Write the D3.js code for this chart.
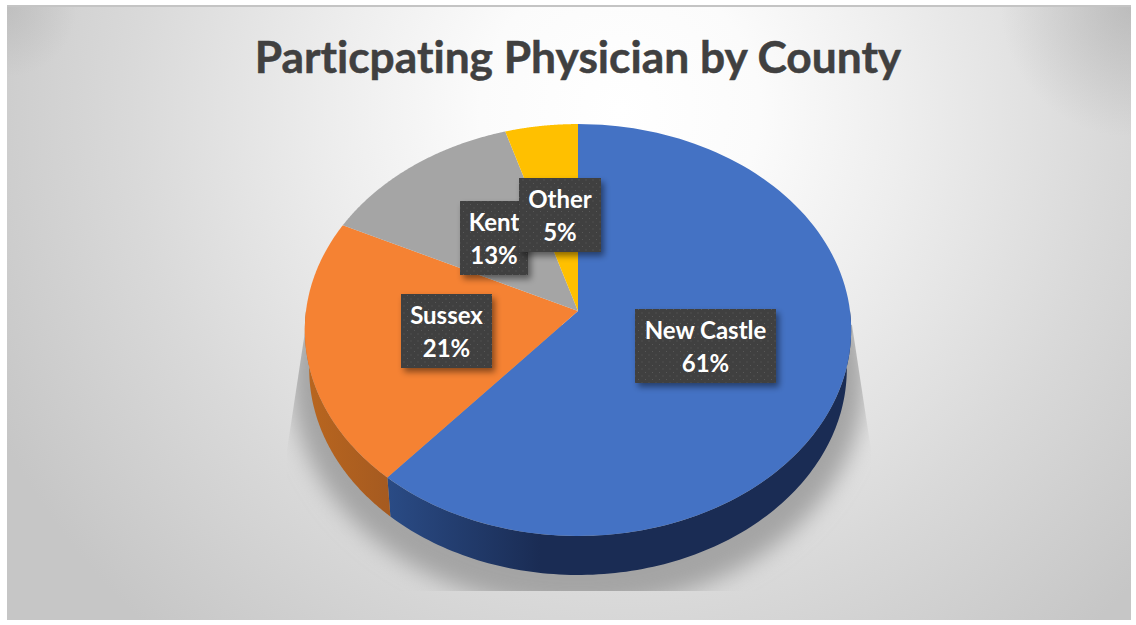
<!DOCTYPE html>
<html><head><meta charset="utf-8">
<script src="https://cdn.jsdelivr.net/npm/d3@7"></script>
<style>html,body{margin:0;padding:0;background:#fff;overflow:hidden}svg{display:block}text{font-variant-ligatures:none}</style>
</head><body><div id="c"></div>
<script>
const categories = ["New Castle", "Sussex", "Kent", "Other"];
const values = [61.3, 20.9, 13.1, 4.7];
const percentLabels = ["61%", "21%", "13%", "5%"];
const titleText = "Particpating Physician by County";
const topColors = ["#4472c4", "#f58233", "#a5a5a5", "#ffc000"];

const W = 1136, H = 625;
// label box layout (x, y, w, h)
const boxes = [[635,309,141,74],[401,294,91,74],[460,201,68,74],[519,178,82,74]];

// perspective projection of the pie disc
const cx = 578, cy = 311, A = 204.2, B = 272, k = 0.0923, depth = 39, shrink = 0.984;
const project = (theta, lower) => {
  const u = -Math.cos(theta), v = Math.sin(theta), d = 1 - k * u;
  const s = lower ? shrink : 1;
  return [cx + s * B * v / d, cy + A * u / d + (lower ? depth : 0)];
};
const arcPts = (a0, a1, lower) => d3.range(0, 121).map(i => project(a0 + (a1 - a0) * i / 120, lower));
const line = d3.line();

const svg = d3.select("#c").append("svg").attr("width", W).attr("height", H);
const defs = svg.append("defs");

const bg = defs.append("radialGradient").attr("id","bg").attr("gradientUnits","userSpaceOnUse")
  .attr("cx",620).attr("cy",110).attr("r",700);
[[0,"#ffffff"],[0.2,"#fbfbfb"],[0.4,"#eeeeee"],[0.7,"#d9d9d9"],[1,"#c6c6c6"]].forEach(s=>bg.append("stop").attr("offset",s[0]).attr("stop-color",s[1]));

const cornerR = defs.append("radialGradient").attr("id","cornerR").attr("gradientUnits","userSpaceOnUse")
  .attr("cx",1131).attr("cy",7).attr("r",130);
cornerR.append("stop").attr("offset",0).attr("stop-color","#999").attr("stop-opacity",0.42);
cornerR.append("stop").attr("offset",1).attr("stop-color","#999").attr("stop-opacity",0);
const cornerL = defs.append("radialGradient").attr("id","cornerL").attr("gradientUnits","userSpaceOnUse")
  .attr("cx",7).attr("cy",7).attr("r",70);
cornerL.append("stop").attr("offset",0).attr("stop-color","#aaa").attr("stop-opacity",0.4);
cornerL.append("stop").attr("offset",1).attr("stop-color","#aaa").attr("stop-opacity",0);

const blur = defs.append("filter").attr("id","blur").attr("x","-20%").attr("y","-20%").attr("width","140%").attr("height","140%");
blur.append("feGaussianBlur").attr("stdDeviation",11);

const ds = defs.append("filter").attr("id","ds").attr("x","-20%").attr("y","-20%").attr("width","150%").attr("height","150%");
ds.append("feDropShadow").attr("dx",3).attr("dy",4).attr("stdDeviation",3).attr("flood-color","#000").attr("flood-opacity",0.45);

const pat = defs.append("pattern").attr("id","dots").attr("patternUnits","userSpaceOnUse").attr("width",7).attr("height",7);
pat.append("rect").attr("width",7).attr("height",7).attr("fill","#404040");
pat.append("rect").attr("x",1).attr("y",1).attr("width",1).attr("height",1).attr("fill","#585858");
pat.append("rect").attr("x",4.5).attr("y",4.5).attr("width",1).attr("height",1).attr("fill","#585858");

const blueSide = defs.append("linearGradient").attr("id","side0").attr("gradientUnits","userSpaceOnUse")
  .attr("x1",388).attr("x2",540).attr("y1",0).attr("y2",0);
blueSide.append("stop").attr("offset",0).attr("stop-color","#2a4b85");
blueSide.append("stop").attr("offset",1).attr("stop-color","#1a2c54");
const orangeSide = defs.append("linearGradient").attr("id","side1").attr("gradientUnits","userSpaceOnUse")
  .attr("x1",305).attr("x2",390).attr("y1",0).attr("y2",0);
orangeSide.append("stop").attr("offset",0).attr("stop-color","#b9661f");
orangeSide.append("stop").attr("offset",1).attr("stop-color","#a55a20");

// card background
svg.append("rect").attr("x",7).attr("y",5).attr("width",1124).attr("height",2).attr("fill","#c4c4c4");
svg.append("rect").attr("x",7).attr("y",7).attr("width",1124).attr("height",613).attr("fill","url(#bg)");
svg.append("rect").attr("x",1000).attr("y",7).attr("width",131).attr("height",130).attr("fill","url(#cornerR)");
svg.append("rect").attr("x",7).attr("y",7).attr("width",90).attr("height",90).attr("fill","url(#cornerL)");

// ground shadow, clipped to a tapered shape
const clip = defs.append("clipPath").attr("id","shadowClip");
clip.append("path").attr("d","M306,325L287,450L287,591L871,591L871,450L852,325Z");
svg.append("g").attr("clip-path","url(#shadowClip)")
  .append("ellipse").attr("cx",578).attr("cy",378).attr("rx",287).attr("ry",230)
  .attr("fill","#a4a4a4").attr("filter","url(#blur)");

const pie = d3.pie().sort(null).value(d => d)(values);

// side walls (only the front half of the disc shows)
const frontStart = Math.PI * 0.5, frontEnd = Math.PI * 1.5;
pie.forEach((p, i) => {
  const a0 = Math.max(p.startAngle, frontStart), a1 = Math.min(p.endAngle, frontEnd);
  if (a1 <= a0) return;
  const pts = arcPts(a0, a1, false).concat(arcPts(a0, a1, true).reverse());
  svg.append("path").attr("d", line(pts) + "Z").attr("fill", `url(#side${i})`);
});

// top faces
pie.forEach((p, i) => {
  const pts = [[cx, cy]].concat(arcPts(p.startAngle, p.endAngle, false));
  svg.append("path").attr("d", line(pts) + "Z").attr("fill", topColors[i]);
});

// title
svg.append("text").attr("x",578).attr("y",73).attr("text-anchor","middle")
  .attr("font-family","Lato").attr("font-weight",700).attr("font-size",44.3)
  .attr("fill","#404040").attr("stroke","#404040").attr("stroke-width",0.5).text(titleText);

// data labels
categories.forEach((c, i) => {
  const [x, y, w, h] = boxes[i];
  const g = svg.append("g");
  g.append("rect").attr("x",x).attr("y",y).attr("width",w).attr("height",h)
    .attr("fill","url(#dots)").attr("filter","url(#ds)");
  g.selectAll("text").data([c, percentLabels[i]]).join("text")
    .attr("x", x + w / 2).attr("y", (d, j) => y + 30 + j * 33).attr("text-anchor","middle")
    .attr("font-family","Lato").attr("font-weight",700).attr("font-size",24)
    .attr("fill","#fff").text(d => d);
});
</script></body></html>
